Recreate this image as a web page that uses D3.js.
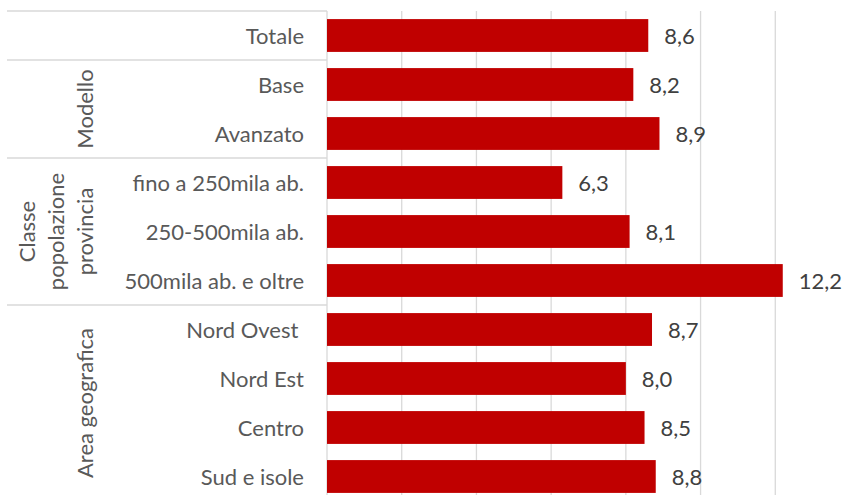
<!DOCTYPE html>
<html>
<head>
<meta charset="utf-8">
<script src="https://cdn.jsdelivr.net/npm/d3@7"></script>
<style>
  body { margin: 0; background: #fff; }
  svg { display: block; }
</style>
</head>
<body>
<script>
// categories top to bottom and their values
const categories = ["Totale", "Base", "Avanzato", "fino a 250mila ab.", "250-500mila ab.",
  "500mila ab. e oltre", "Nord Ovest ", "Nord Est", "Centro", "Sud e isole"];
const values = [8.6, 8.2, 8.9, 6.3, 8.1, 12.2, 8.7, 8.0, 8.5, 8.8];
// groups: label lines + first/last category index
const groupLabels = [[], ["Modello"], ["Classe", "popolazione", "provincia"], ["Area geografica"]];
const groupStart = [0, 1, 3, 6];
const groupEnd = [0, 2, 5, 9];
const xTicks = [0, 2, 4, 6, 8, 10, 12];

const dims = { w: 849, h: 495, left: 327, top: 11, right: 850, band: 49 };
const font = "Lato, 'Open Sans', sans-serif";
const fs = 22;

const svg = d3.select("body")
  .append("svg")
  .attr("width", dims.w)
  .attr("height", dims.h);

const x = d3.scaleLinear().domain([0, 14]).range([dims.left, dims.right]);
const y = d3.scaleBand()
  .domain(categories)
  .range([dims.top, dims.top + dims.band * categories.length])
  .paddingInner(0.33)
  .paddingOuter(0.165);

// vertical gridlines
svg.append("g")
  .selectAll("line")
  .data(xTicks)
  .enter()
  .append("line")
  .attr("x1", d => x(d))
  .attr("x2", d => x(d))
  .attr("y1", dims.top)
  .attr("y2", dims.h)
  .attr("stroke", "#d9d9d9")
  .attr("stroke-width", 1.3);

// separators in the category area
const sepRows = [0].concat(groupEnd.slice(0, 3).map(e => e + 1));
svg.append("g")
  .selectAll("line")
  .data(sepRows)
  .enter()
  .append("line")
  .attr("x1", 7)
  .attr("x2", dims.left)
  .attr("y1", d => dims.top + d * dims.band)
  .attr("y2", d => dims.top + d * dims.band)
  .attr("stroke", "#d9d9d9")
  .attr("stroke-width", 1.3);

// bars
svg.append("g")
  .selectAll("rect")
  .data(values)
  .enter()
  .append("rect")
  .attr("x", x(0))
  .attr("y", (d, i) => y(categories[i]))
  .attr("width", d => x(d) - x(0))
  .attr("height", y.bandwidth())
  .attr("fill", "#c00000");

// value labels
svg.append("g")
  .selectAll("text")
  .data(values)
  .enter()
  .append("text")
  .attr("x", d => x(d) + 16)
  .attr("y", (d, i) => y(categories[i]) + y.bandwidth() / 2)
  .attr("dominant-baseline", "central")
  .attr("font-family", font)
  .attr("font-size", fs)
  .attr("fill", "#404040")
  .text(d => d.toFixed(1).replace(".", ","));

// category labels
svg.append("g")
  .selectAll("text")
  .data(categories)
  .enter()
  .append("text")
  .attr("x", 304)
  .attr("y", d => y(d) + y.bandwidth() / 2)
  .attr("text-anchor", "end")
  .attr("dominant-baseline", "central")
  .attr("font-family", font)
  .attr("font-size", fs)
  .attr("fill", "#595959")
  .style("white-space", "pre")
  .text(d => d);

// rotated group labels
groupLabels.forEach((lines, g) => {
  if (!lines.length) return;
  const cy = (y(categories[groupStart[g]]) + y(categories[groupEnd[g]]) + y.bandwidth()) / 2;
  lines.forEach((line, k) => {
    const cx = 84 - (lines.length - 1 - k) * 29;
    svg.append("text")
      .attr("transform", `translate(${cx},${cy}) rotate(-90)`)
      .attr("text-anchor", "middle")
      .attr("dominant-baseline", "central")
      .attr("font-family", font)
      .attr("font-size", fs)
      .attr("fill", "#595959")
      .text(line);
  });
});
</script>
</body>
</html>
